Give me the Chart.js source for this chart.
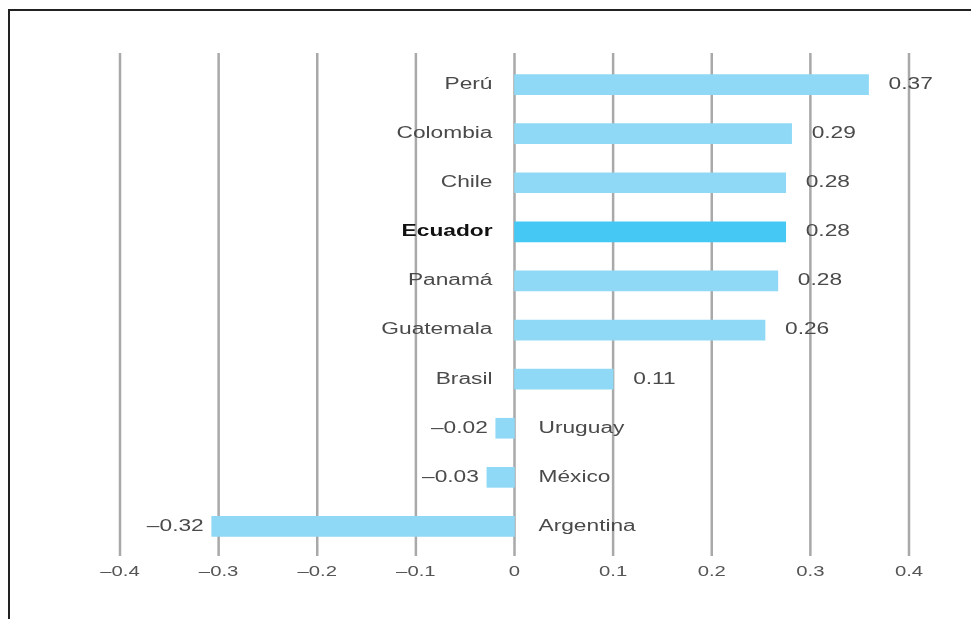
<!DOCTYPE html>
<html>
<head>
<meta charset="utf-8">
<script src="https://cdn.jsdelivr.net/npm/chart.js@4.4.0/dist/chart.umd.min.js"></script>
<style>
  html, body { margin: 0; padding: 0; background: #fff; }
  #wrap { position: relative; width: 971px; height: 619px; overflow: hidden; }
  #frame { position: absolute; left: 8px; top: 9px; width: 1000px; height: 700px;
           border-top: 2px solid #222; border-left: 2px solid #222; }
  #chart { position: absolute; left: 0; top: 0; }
</style>
</head>
<body>
<div id="wrap">
  <div id="frame"></div>
  <canvas id="chart" width="971" height="619"></canvas>
</div>
<script>
var countries = ['Perú', 'Colombia', 'Chile', 'Ecuador', 'Panamá', 'Guatemala', 'Brasil', 'Uruguay', 'México', 'Argentina'];
// bar lengths as drawn in the picture
var values = [0.359, 0.281, 0.275, 0.275, 0.267, 0.254, 0.100, -0.019, -0.028, -0.307];
// numbers printed next to the bars
var valueLabels = ['0.37', '0.29', '0.28', '0.28', '0.28', '0.26', '0.11', '–0.02', '–0.03', '–0.32'];
var tickValues = [-0.4, -0.3, -0.2, -0.1, 0, 0.1, 0.2, 0.3, 0.4];
var tickLabels = ['–0.4', '–0.3', '–0.2', '–0.1', '0', '0.1', '0.2', '0.3', '0.4'];
var highlight = 'Ecuador';

var barColors = countries.map(function (c) {
  return c === highlight ? '#45c9f4' : '#8fd9f6';
});

// the source text is drawn wide, so stretch it horizontally
function wideText(ctx, text, x, y, align, sx) {
  ctx.save();
  ctx.translate(x, y);
  ctx.scale(sx, 1);
  ctx.textAlign = align;
  ctx.fillText(text, 0, 0);
  ctx.restore();
}

// vertical grid lines run a little past the bars at top and bottom
var gridPlugin = {
  id: 'grid',
  beforeDatasetsDraw: function (chart) {
    var ctx = chart.ctx;
    var xs = chart.scales.x;
    var area = chart.chartArea;
    ctx.save();
    ctx.strokeStyle = '#a9a9a9';
    ctx.lineWidth = 2.5;
    tickValues.forEach(function (v) {
      var x = xs.getPixelForValue(v);
      ctx.beginPath();
      ctx.moveTo(x, area.top - 7);
      ctx.lineTo(x, area.bottom + 5);
      ctx.stroke();
    });
    ctx.restore();
  }
};

var labelPlugin = {
  id: 'labels',
  afterDatasetsDraw: function (chart) {
    var ctx = chart.ctx;
    var xs = chart.scales.x;
    var ys = chart.scales.y;
    var zero = xs.getPixelForValue(0);
    ctx.save();
    ctx.textBaseline = 'middle';
    countries.forEach(function (c, i) {
      var y = ys.getPixelForValue(i);
      var end = xs.getPixelForValue(values[i]);
      ctx.fillStyle = '#4a4a4a';
      ctx.font = '16px "Liberation Sans", Arial, sans-serif';
      if (values[i] >= 0) {
        wideText(ctx, valueLabels[i], end + 20, y, 'left', 1.42);
      } else {
        wideText(ctx, valueLabels[i], end - 8, y, 'right', 1.42);
      }
      if (c === highlight) {
        ctx.fillStyle = '#111';
        ctx.font = 'bold 16px "Liberation Sans", Arial, sans-serif';
      }
      if (values[i] >= 0) {
        wideText(ctx, c, zero - 22, y, 'right', 1.42);
      } else {
        wideText(ctx, c, zero + 24, y, 'left', 1.42);
      }
    });
    // x tick labels
    ctx.fillStyle = '#555';
    ctx.font = '14px "Liberation Sans", Arial, sans-serif';
    tickValues.forEach(function (v, i) {
      wideText(ctx, tickLabels[i], xs.getPixelForValue(v), chart.chartArea.bottom + 21, 'center', 1.45);
    });
    ctx.restore();
  }
};

var chart = new Chart('chart', {
  type: 'bar',
  data: {
    labels: countries,
    datasets: [{
      data: values,
      backgroundColor: barColors,
      barThickness: 20
    }]
  },
  options: {
    indexAxis: 'y',
    responsive: false,
    animation: false,
    layout: {
      padding: { left: 120, right: 62, top: 60, bottom: 68 }
    },
    plugins: {
      legend: { display: false },
      tooltip: { enabled: false }
    },
    scales: {
      x: {
        min: -0.4,
        max: 0.4,
        ticks: { stepSize: 0.1, display: false },
        grid: { display: false, drawTicks: false },
        border: { display: false }
      },
      y: {
        display: false
      }
    }
  },
  plugins: [gridPlugin, labelPlugin]
});
</script>
</body>
</html>
